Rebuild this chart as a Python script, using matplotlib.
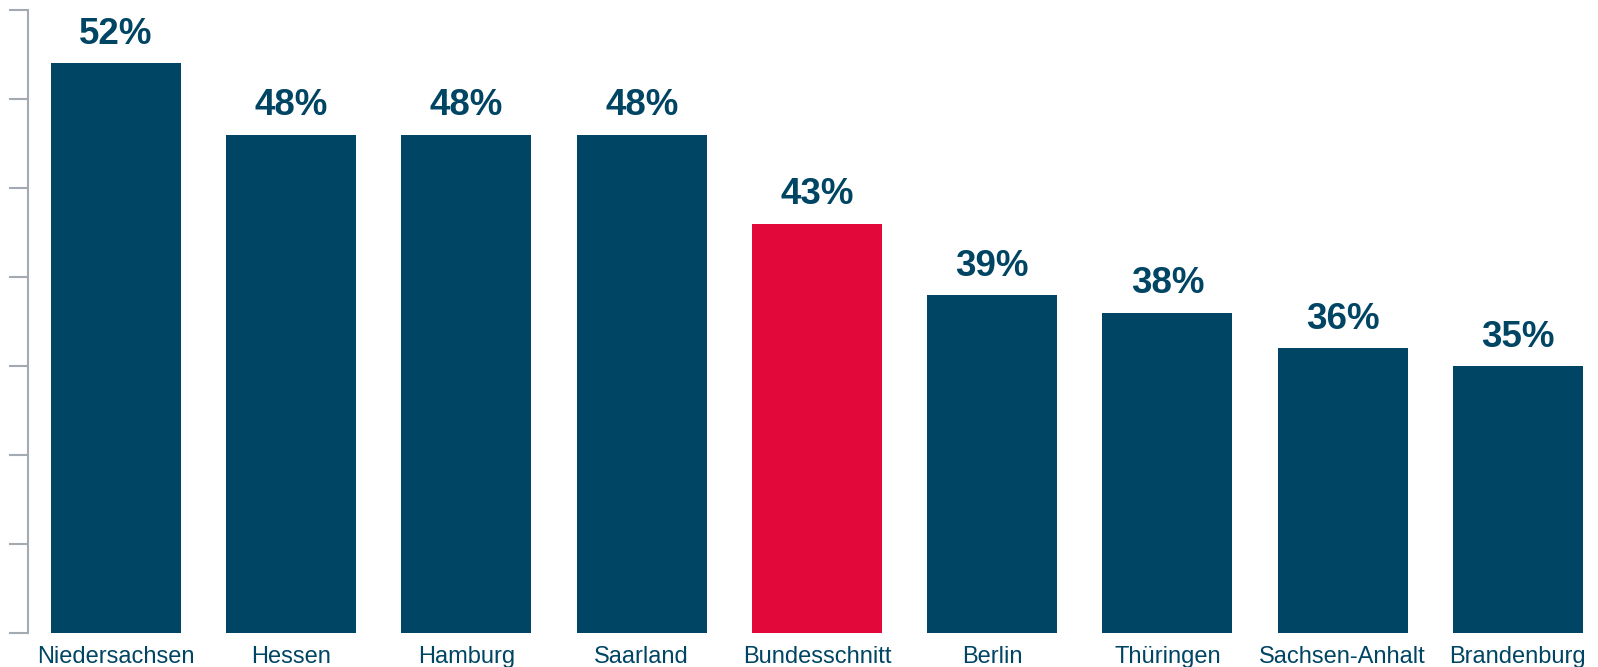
import matplotlib
matplotlib.use("Agg")
import matplotlib.pyplot as plt

# Daten
laender = ["Niedersachsen", "Hessen", "Hamburg", "Saarland", "Bundesschnitt",
           "Berlin", "Thüringen", "Sachsen-Anhalt", "Brandenburg"]
werte = [52, 48, 48, 48, 43, 39, 38, 36, 35]

blau = "#004563"
rot = "#E2093A"
farben = [rot if l == "Bundesschnitt" else blau for l in laender]

plt.rcParams["font.family"] = ["Liberation Sans", "DejaVu Sans"]

fig = plt.figure(figsize=(15.98, 6.67), dpi=100, facecolor="w")
ax = fig.add_axes([28 / 1598, 34 / 667, 1570 / 1598, 623 / 667])

x = range(len(laender))
ax.bar(x, werte, width=0.742, color=farben, bottom=0)

for i, v in zip(x, werte):
    ax.annotate(f"{v}%", (i, v), xytext=(0, 8), textcoords="offset points",
                ha="center", va="bottom", fontsize=26.5, fontweight="bold", color=blau)

ax.set_ylim(20, 55)
ax.set_xlim(-0.502, 8.457)
ax.set_yticks(range(20, 56, 5))
ax.set_yticklabels([])
ax.set_xticks(list(x))
ax.set_xticklabels(laender, fontsize=17, color=blau)
ax.tick_params(axis="x", length=0, pad=9.5)
ax.tick_params(axis="y", length=14, width=1.5, color="#A3AAB2")

for s in ["top", "right", "bottom"]:
    ax.spines[s].set_visible(False)
ax.spines["left"].set_color("#A3AAB2")
ax.spines["left"].set_linewidth(1.5)

fig.savefig("out.png", dpi=100)
